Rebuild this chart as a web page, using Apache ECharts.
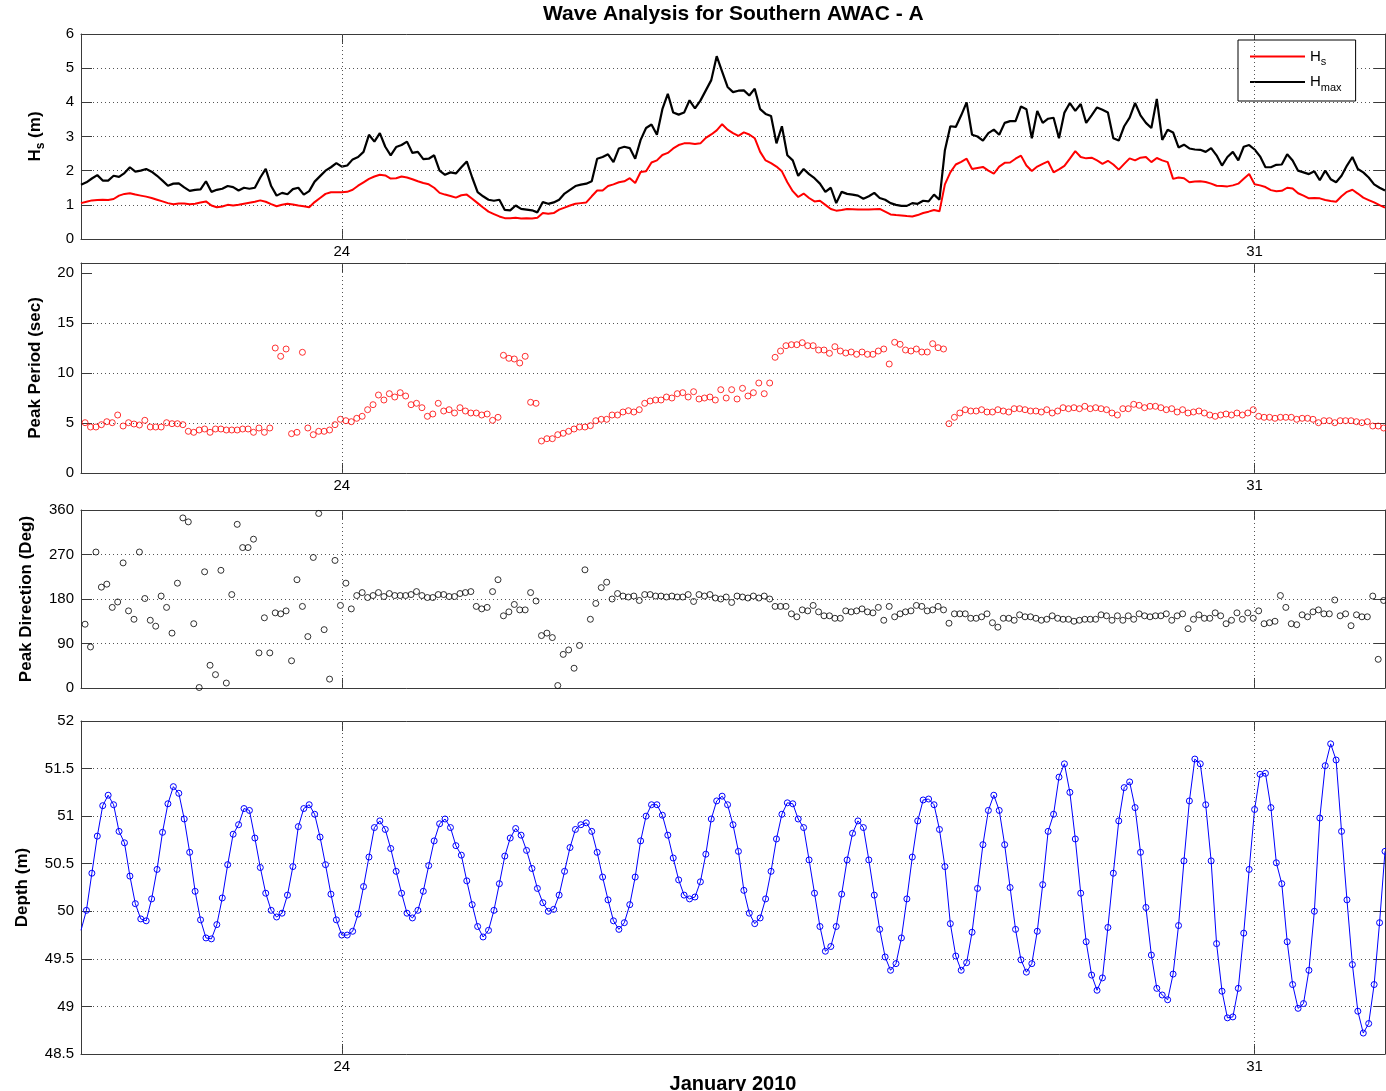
<!DOCTYPE html>
<html>
<head>
<meta charset="utf-8">
<title>Wave Analysis for Southern AWAC - A</title>
<script src="https://cdn.jsdelivr.net/npm/echarts@6/dist/echarts.min.js"></script>
<style>
  html, body { margin: 0; padding: 0; background: #fff; }
  #chart { width: 1386px; height: 1091px; }
</style>
</head>
<body>
<div id="chart"></div>
<script>
// hourly AWAC samples, hour 0 = 22 Jan 2010 00:00
const dayStart = 22;
const dayEnd = 32;
const dayTicks = [24, 31];
const dayTickLabels = ['24', '31'];
const periodTicks = [0, 5, 10, 15, 20];

const hsStart = 0;          // hours after dayStart
const periodStart = 0.75;
const directionStart = 0.75;
const depthStart = 0;

const hs = [
  1.05,1.09,1.13,1.14,1.15,1.14,1.17,1.27,1.32,1.34,
  1.30,1.27,1.24,1.20,1.15,1.10,1.05,1.02,1.04,1.04,
  1.02,1.03,1.07,1.10,0.98,0.93,0.95,1.00,0.98,1.00,
  1.03,1.06,1.09,1.13,1.09,1.02,0.96,1.00,1.03,1.01,
  0.98,0.96,0.93,1.08,1.20,1.32,1.37,1.37,1.37,1.38,
  1.44,1.56,1.66,1.76,1.83,1.88,1.86,1.77,1.78,1.83,
  1.80,1.75,1.69,1.64,1.60,1.50,1.35,1.30,1.26,1.21,
  1.28,1.30,1.18,1.05,0.92,0.80,0.73,0.66,0.61,0.61,
  0.62,0.60,0.61,0.60,0.62,0.76,0.74,0.76,0.86,0.92,
  0.98,1.03,1.05,1.07,1.25,1.42,1.42,1.55,1.60,1.66,
  1.69,1.78,1.64,1.96,1.98,2.24,2.30,2.46,2.52,2.65,
  2.75,2.80,2.80,2.78,2.80,2.96,3.06,3.18,3.36,3.20,
  3.10,3.02,3.12,3.06,2.95,2.55,2.30,2.22,2.12,1.98,
  1.66,1.40,1.23,1.33,1.20,1.10,1.12,1.00,0.88,0.83,
  0.85,0.88,0.87,0.86,0.86,0.86,0.87,0.88,0.80,0.72,
  0.70,0.69,0.67,0.66,0.70,0.76,0.80,0.85,0.81,1.60,
  1.95,2.18,2.26,2.35,2.05,2.08,2.11,2.00,1.91,2.12,
  2.23,2.24,2.35,2.44,2.15,1.99,2.12,2.20,2.27,1.95,
  2.04,2.14,2.35,2.57,2.40,2.36,2.38,2.30,2.20,2.29,
  2.18,2.03,2.20,2.36,2.30,2.38,2.40,2.25,2.37,2.30,
  2.25,1.76,1.80,1.78,1.66,1.68,1.69,1.67,1.62,1.56,
  1.55,1.54,1.57,1.62,1.76,1.90,1.60,1.57,1.52,1.43,
  1.40,1.41,1.50,1.48,1.34,1.27,1.19,1.20,1.19,1.14,
  1.11,1.09,1.25,1.38,1.44,1.33,1.21,1.14,1.07,0.99,
  0.92
];

const hmax = [
  1.59,1.66,1.77,1.87,1.71,1.71,1.85,1.82,1.93,2.10,
  1.97,2.00,2.05,1.97,1.85,1.71,1.56,1.62,1.63,1.51,
  1.41,1.44,1.45,1.69,1.38,1.44,1.47,1.55,1.52,1.42,
  1.50,1.47,1.50,1.80,2.05,1.55,1.27,1.35,1.31,1.46,
  1.50,1.30,1.40,1.68,1.84,2.00,2.10,2.22,2.12,2.15,
  2.33,2.40,2.55,3.05,2.85,3.10,2.70,2.45,2.69,2.75,
  2.85,2.52,2.55,2.34,2.35,2.45,2.00,1.88,1.95,1.92,
  2.10,2.27,1.80,1.37,1.25,1.15,1.12,1.15,0.85,0.84,
  0.98,0.88,0.86,0.84,0.78,1.08,1.03,1.07,1.15,1.33,
  1.44,1.55,1.59,1.62,1.69,2.35,2.40,2.48,2.25,2.65,
  2.70,2.66,2.35,2.90,3.25,3.35,3.05,3.80,4.25,3.70,
  3.64,3.70,4.06,3.82,4.05,4.35,4.65,5.35,4.90,4.45,
  4.30,4.34,4.35,4.20,4.40,3.80,3.66,3.60,2.80,3.30,
  2.45,2.30,1.85,2.05,1.90,1.78,1.62,1.38,1.50,1.05,
  1.38,1.32,1.30,1.27,1.18,1.25,1.35,1.20,1.15,1.05,
  1.00,0.97,0.97,1.05,1.03,1.12,1.10,1.30,1.15,2.60,
  3.30,3.28,3.62,4.00,3.05,3.00,2.88,3.10,3.20,3.05,
  3.40,3.45,3.45,3.88,3.80,2.95,3.75,3.40,3.52,3.55,
  2.95,3.70,3.98,3.75,3.95,3.40,3.62,3.85,3.78,3.70,
  2.95,2.88,3.30,3.55,3.98,3.62,3.40,3.25,4.10,2.90,
  3.20,3.12,2.68,2.76,2.65,2.62,2.61,2.55,2.66,2.45,
  2.15,2.40,2.55,2.30,2.70,2.75,2.62,2.42,2.10,2.10,
  2.17,2.18,2.48,2.30,2.00,1.95,1.90,1.98,1.72,2.00,
  1.75,1.66,1.85,2.15,2.40,2.05,1.95,1.80,1.60,1.50,
  1.42
];

const peakPeriod = [
  5.03,4.6,4.6,4.83,5.13,5.03,5.8,4.7,5.03,4.9,
  4.8,5.27,4.6,4.6,4.6,5.03,4.93,4.93,4.83,4.17,
  4.07,4.3,4.4,4.07,4.4,4.4,4.3,4.3,4.3,4.4,
  4.4,4.07,4.5,4.07,4.5,12.5,11.67,12.4,3.93,4.07,
  12.07,4.5,3.83,4.17,4.17,4.3,4.83,5.37,5.23,5.13,
  5.47,5.67,6.33,6.83,7.8,7.3,7.93,7.6,8.03,7.7,
  6.83,6.97,6.53,5.67,5.9,6.97,6.2,6.33,6.0,6.53,
  6.2,6.0,6.0,5.8,5.9,5.27,5.57,11.77,11.47,11.4,
  11.0,11.67,7.07,6.97,3.2,3.43,3.43,3.83,3.97,4.17,
  4.4,4.6,4.6,4.73,5.23,5.37,5.37,5.8,5.8,6.1,
  6.23,6.1,6.33,6.97,7.2,7.3,7.3,7.6,7.5,7.93,
  8.03,7.6,8.13,7.4,7.5,7.6,7.3,8.33,7.5,8.33,
  7.4,8.47,7.7,8.03,9.0,7.93,9.0,11.57,12.2,12.73,
  12.83,12.83,13.03,12.73,12.73,12.3,12.3,11.97,12.63,12.2,
  12.0,12.1,11.87,12.1,11.87,11.87,12.2,12.4,10.9,13.07,
  12.87,12.3,12.2,12.4,12.1,12.1,12.93,12.53,12.4,4.93,
  5.57,6.0,6.33,6.2,6.2,6.33,6.1,6.1,6.33,6.2,
  6.1,6.43,6.43,6.33,6.2,6.2,6.1,6.33,6.0,6.2,
  6.53,6.43,6.53,6.43,6.67,6.43,6.53,6.43,6.33,6.0,
  5.8,6.43,6.43,6.87,6.77,6.53,6.67,6.67,6.53,6.33,
  6.43,6.1,6.33,6.0,6.1,6.2,6.0,5.8,5.67,5.8,
  5.9,5.8,6.0,5.8,6.0,6.33,5.67,5.57,5.57,5.47,
  5.57,5.57,5.57,5.37,5.47,5.47,5.37,5.03,5.23,5.23,
  5.03,5.23,5.23,5.23,5.13,5.03,5.13,4.7,4.7,4.5
];

const peakDirection = [
  129,83,275,204,210,163,174,253,156,139,
  275,181,137,125,186,163,111,212,344,336,
  130,1,235,46,27,238,10,189,331,284,
  284,301,71,142,71,152,150,156,55,219,
  165,104,264,353,118,18,258,167,212,160,
  187,193,183,187,193,185,191,187,187,187,
  189,195,187,183,183,189,189,185,185,191,
  193,195,165,160,163,195,219,146,154,169,
  158,158,193,176,106,111,102,5,68,77,
  40,86,239,139,171,203,214,180,191,186,
  184,186,177,189,189,186,186,184,186,184,
  184,189,175,189,186,189,182,180,184,173,
  186,184,182,186,182,186,180,165,165,165,
  150,144,158,156,167,154,146,146,141,141,
  156,154,156,160,154,152,163,137,165,144,
  150,154,156,167,165,156,158,165,158,131,
  150,150,150,141,141,144,150,132,123,141,
  141,137,148,144,144,141,137,139,146,141,
  139,139,135,137,139,139,139,148,146,137,
  146,137,146,139,150,146,144,146,146,150,
  137,146,150,120,139,148,141,141,152,146,
  130,137,152,139,152,141,156,130,132,135,
  187,163,130,128,148,144,154,158,150,150,
  178,146,150,126,148,144,144,186,58,177
];

const depth = [
  49.80,50.01,50.40,50.79,51.11,51.22,51.12,50.84,50.72,50.37,
  50.08,49.92,49.90,50.13,50.44,50.83,51.13,51.31,51.24,50.97,
  50.62,50.21,49.91,49.72,49.71,49.86,50.14,50.49,50.81,50.91,
  51.08,51.06,50.77,50.46,50.19,50.01,49.94,49.98,50.17,50.47,
  50.89,51.08,51.12,51.02,50.78,50.49,50.18,49.91,49.75,49.75,
  49.79,49.97,50.26,50.57,50.88,50.95,50.86,50.66,50.42,50.19,
  49.98,49.93,50.01,50.21,50.48,50.74,50.92,50.97,50.88,50.69,
  50.59,50.32,50.07,49.84,49.73,49.80,50.01,50.29,50.58,50.77,
  50.87,50.80,50.64,50.45,50.24,50.09,50.00,50.02,50.17,50.42,
  50.67,50.86,50.91,50.93,50.84,50.62,50.36,50.12,49.90,49.81,
  49.88,50.07,50.36,50.74,51.00,51.12,51.12,51.01,50.80,50.56,
  50.33,50.17,50.13,50.15,50.31,50.60,50.97,51.16,51.21,51.12,
  50.91,50.63,50.22,49.98,49.87,49.93,50.13,50.42,50.76,51.02,
  51.14,51.13,50.97,50.88,50.54,50.19,49.84,49.58,49.63,49.84,
  50.18,50.54,50.82,50.95,50.88,50.54,50.17,49.81,49.52,49.38,
  49.45,49.72,50.13,50.57,50.95,51.17,51.18,51.12,50.86,50.47,
  49.87,49.53,49.38,49.46,49.78,50.24,50.70,51.06,51.22,51.06,
  50.70,50.25,49.81,49.49,49.36,49.45,49.79,50.28,50.84,51.02,
  51.41,51.55,51.25,50.76,50.19,49.68,49.33,49.17,49.30,49.83,
  50.40,50.95,51.30,51.36,51.09,50.62,50.04,49.54,49.19,49.12,
  49.07,49.34,49.85,50.53,51.16,51.60,51.55,51.12,50.53,49.66,
  49.16,48.88,48.89,49.19,49.77,50.44,51.07,51.44,51.45,51.09,
  50.51,50.29,49.68,49.23,48.98,49.03,49.38,50.00,50.98,51.53,
  51.76,51.59,50.84,50.12,49.44,48.95,48.72,48.82,49.23,49.88,
  50.63
];

function toSeries(values, startHour) {
  return values.map((v, i) => [dayStart + (startHour + i) / 24, v]);
}

const font = "'Liberation Sans', Arial, Helvetica, sans-serif";
const frame = { color: '#3a3a3a', width: 1 };
const dotted = { color: '#555', width: 1, type: [1, 3] };
const tickText = { color: '#000', fontFamily: font, fontSize: 15 };
const nameText = { color: '#000', fontFamily: font, fontSize: 17, fontWeight: 'bold' };
const legendLine = 'path://M0,0 H100 V4 H0 Z';

// dotted vertical grid lines at the labelled days
const dayGrid = {
  silent: true, symbol: 'none', animation: false,
  label: { show: false }, emphasis: { disabled: true },
  lineStyle: dotted,
  data: dayTicks.map(d => ({ xAxis: d }))
};

function bottomAxis(gridIndex, showLabels, name) {
  return {
    type: 'value', gridIndex: gridIndex, min: dayStart, max: dayEnd, position: 'bottom',
    axisLine: { show: true, onZero: false, lineStyle: frame },
    axisTick: { show: true, inside: true, length: 10, customValues: dayTicks, lineStyle: frame },
    axisLabel: Object.assign({
      show: showLabels, customValues: dayTicks, margin: 5,
      formatter: v => dayTickLabels[dayTicks.indexOf(Math.round(v))]
    }, tickText),
    splitLine: { show: false },
    name: name || '', nameLocation: 'middle', nameGap: 17,
    nameTextStyle: Object.assign({}, nameText, { fontSize: 20 })
  };
}

function topAxis(gridIndex) {
  return {
    type: 'value', gridIndex: gridIndex, min: dayStart, max: dayEnd, position: 'top',
    axisLine: { show: true, onZero: false, lineStyle: frame },
    axisTick: { show: true, inside: true, length: 10, customValues: dayTicks, lineStyle: frame },
    axisLabel: { show: false },
    splitLine: { show: false }
  };
}

function leftAxis(gridIndex, min, max, step, name, gap, custom) {
  const ax = {
    type: 'value', gridIndex: gridIndex, min: min, max: max, position: 'left',
    axisLine: { show: true, onZero: false, lineStyle: frame },
    axisTick: { show: true, inside: true, length: 11, lineStyle: frame },
    axisLabel: Object.assign({ margin: 7 }, tickText),
    splitLine: { show: true, showMinLine: false, showMaxLine: false, lineStyle: dotted },
    name: name, nameLocation: 'middle', nameGap: gap,
    nameTextStyle: nameText
  };
  if (custom) {
    ax.axisTick.customValues = custom;
    ax.axisLabel.customValues = custom;
  } else {
    ax.interval = step;
  }
  return ax;
}

function rightAxis(gridIndex, min, max, step, custom) {
  const ax = {
    type: 'value', gridIndex: gridIndex, min: min, max: max, position: 'right',
    axisLine: { show: true, onZero: false, lineStyle: frame },
    axisTick: { show: true, inside: true, length: 11, lineStyle: frame },
    axisLabel: { show: false },
    splitLine: { show: false }
  };
  if (custom) ax.axisTick.customValues = custom;
  else ax.interval = step;
  return ax;
}

const hsName = {
  a: { fontFamily: font, fontSize: 17, fontWeight: 'bold', color: '#000', lineHeight: 24, verticalAlign: 'middle' },
  b: { fontFamily: font, fontSize: 12, fontWeight: 'bold', color: '#000', lineHeight: 13, verticalAlign: 'bottom' }
};

const chart = echarts.init(document.getElementById('chart'), null, { renderer: 'canvas' });

const option = {
  animation: false,
  backgroundColor: '#fff',
  title: {
    text: 'Wave Analysis for Southern AWAC - A',
    left: 543, top: 4, padding: 0,
    textStyle: { color: '#000', fontFamily: font, fontSize: 21, fontWeight: 'bold' }
  },
  legend: {
    data: [{ name: 'Hs', icon: legendLine }, { name: 'Hmax', icon: legendLine }],
    orient: 'vertical', left: 1238, top: 40,
    padding: [9, 14, 8, 12], itemGap: 7, itemWidth: 55, itemHeight: 14,
    borderColor: '#000', borderWidth: 1, backgroundColor: '#fff',
    formatter: n => n === 'Hs' ? '{a|H}{b|s}' : '{a|H}{b|max}',
    textStyle: {
      color: '#000', fontFamily: font, fontSize: 15,
      rich: {
        a: { fontFamily: font, fontSize: 15, color: '#000', lineHeight: 22, verticalAlign: 'middle' },
        b: { fontFamily: font, fontSize: 11, color: '#000', lineHeight: 12, verticalAlign: 'bottom' }
      }
    }
  },
  grid: [
    { left: 81, right: 1, top: 34, height: 205, outerBoundsMode: 'none' },
    { left: 81, right: 1, top: 263, height: 210, outerBoundsMode: 'none' },
    { left: 81, right: 1, top: 510, height: 178, outerBoundsMode: 'none' },
    { left: 81, right: 1, top: 721, height: 333, outerBoundsMode: 'none' }
  ],
  xAxis: [
    bottomAxis(0, true), topAxis(0),
    bottomAxis(1, true), topAxis(1),
    bottomAxis(2, false), topAxis(2),
    bottomAxis(3, true, 'January 2010'), topAxis(3)
  ],
  yAxis: [
    Object.assign(leftAxis(0, 0, 6, 1, '{a|H}{b|s}{a| (m)}', 34),
      { nameTextStyle: Object.assign({}, nameText, { rich: hsName }) }),
    rightAxis(0, 0, 6, 1),
    leftAxis(1, 0, 21, null, 'Peak Period (sec)', 37, periodTicks),
    rightAxis(1, 0, 21, null, periodTicks),
    leftAxis(2, 0, 360, 90, 'Peak Direction (Deg)', 46),
    rightAxis(2, 0, 360, 90),
    leftAxis(3, 48.5, 52, 0.5, 'Depth (m)', 50),
    rightAxis(3, 48.5, 52, 0.5)
  ],
  series: [
    {
      name: 'Hs', type: 'line', xAxisIndex: 0, yAxisIndex: 0,
      data: toSeries(hs, hsStart), symbol: 'none', silent: true,
      lineStyle: { color: '#ff0000', width: 2 }, itemStyle: { color: '#ff0000' },
      markLine: dayGrid
    },
    {
      name: 'Hmax', type: 'line', xAxisIndex: 0, yAxisIndex: 0,
      data: toSeries(hmax, hsStart), symbol: 'none', silent: true,
      lineStyle: { color: '#000', width: 2.2 }, itemStyle: { color: '#000' }
    },
    {
      name: 'Peak Period', type: 'scatter', xAxisIndex: 2, yAxisIndex: 2,
      data: toSeries(peakPeriod, periodStart), symbol: 'circle', symbolSize: 6, silent: true,
      itemStyle: { color: 'rgba(0,0,0,0)', borderColor: '#ff0000', borderWidth: 1 },
      markLine: dayGrid
    },
    {
      name: 'Peak Direction', type: 'scatter', xAxisIndex: 4, yAxisIndex: 4,
      data: toSeries(peakDirection, directionStart), symbol: 'circle', symbolSize: 6, silent: true,
      itemStyle: { color: 'rgba(0,0,0,0)', borderColor: '#000', borderWidth: 1 },
      markLine: dayGrid
    },
    {
      name: 'Depth', type: 'line', xAxisIndex: 6, yAxisIndex: 6,
      data: toSeries(depth, depthStart).map((p, i) => i === 0 ? { value: p, symbolSize: 0 } : p),
      symbol: 'circle', symbolSize: 6, showAllSymbol: true, silent: true,
      lineStyle: { color: '#0000ff', width: 1 },
      itemStyle: { color: 'rgba(0,0,0,0)', borderColor: '#0000ff', borderWidth: 1 },
      markLine: dayGrid
    }
  ]
};

chart.setOption(option);
</script>
</body>
</html>
